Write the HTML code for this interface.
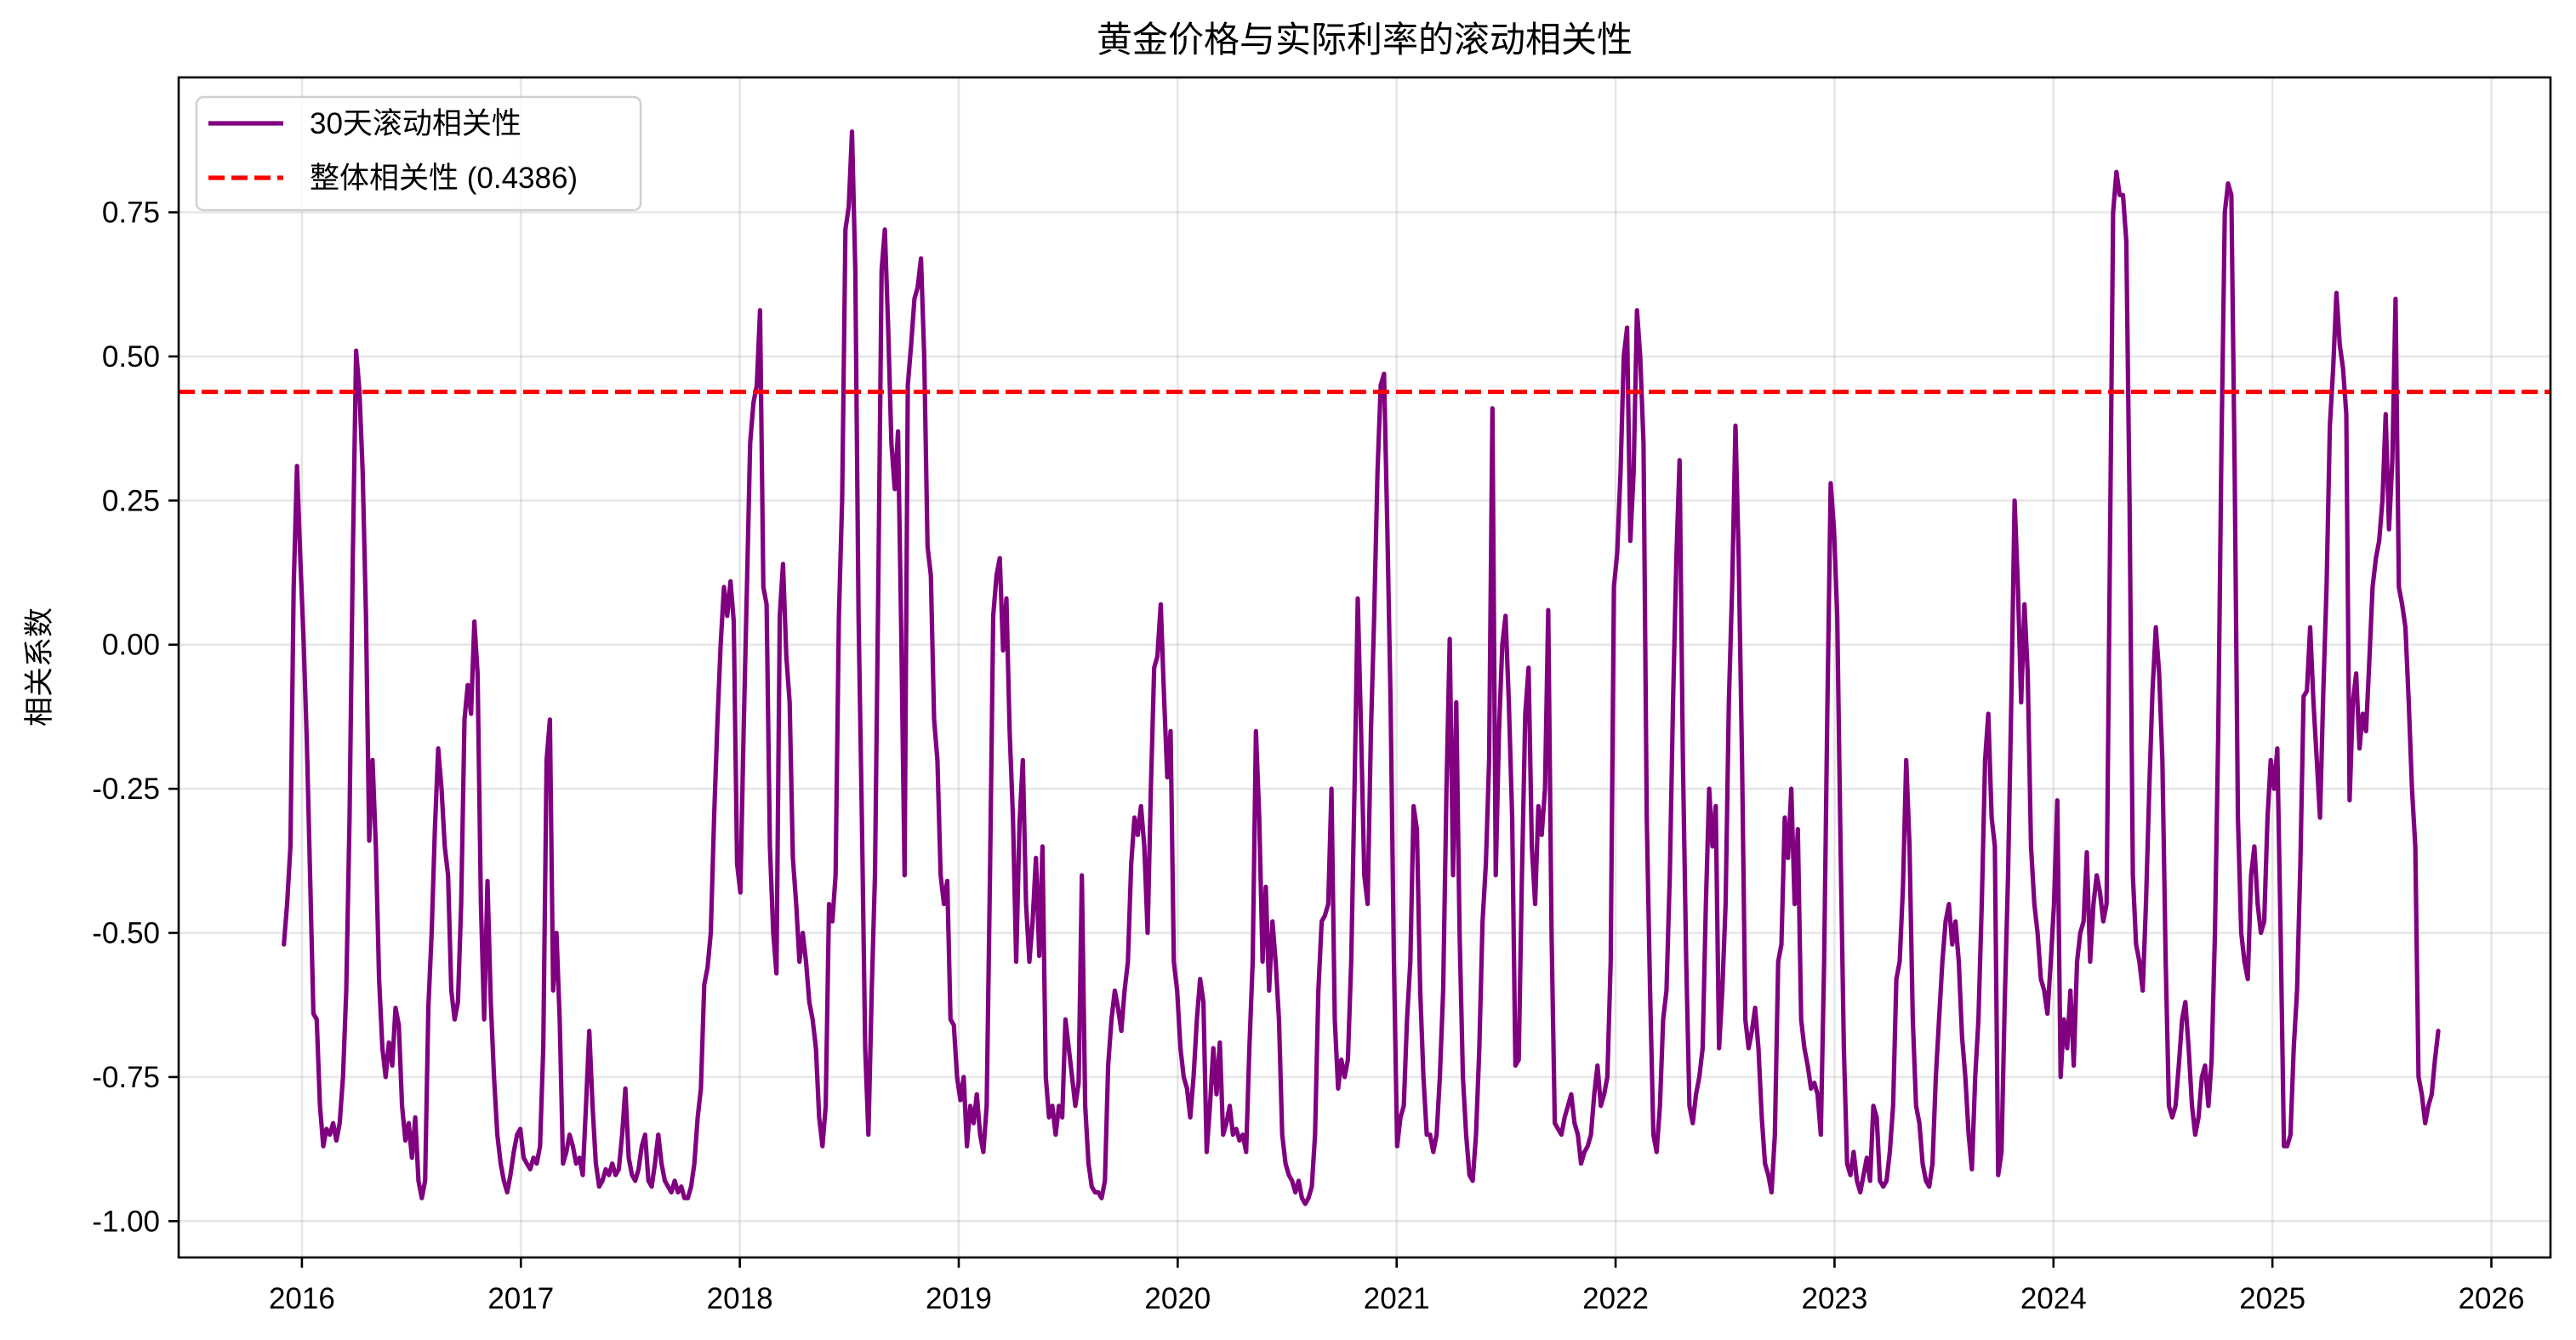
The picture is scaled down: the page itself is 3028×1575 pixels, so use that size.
<!DOCTYPE html>
<html><head><meta charset="utf-8"><style>
html,body{margin:0;padding:0;background:#fff;}
svg{display:block;font-family:"Liberation Sans","Noto Sans CJK SC",sans-serif;}
</style></head><body>
<svg id="chart" width="3028" height="1575" viewBox="0 0 3028 1575">
<rect x="0" y="0" width="3028" height="1575" fill="#fff"/>
<text x="1604" y="61" font-size="42" text-anchor="middle">黄金价格与实际利率的滚动相关性</text>
<g id="grid"></g>
<g id="series"></g>
<g id="axes"></g>
<text transform="translate(58,784) rotate(-90)" font-size="35" text-anchor="middle">相关系数</text>
<g>
<rect x="231" y="114" width="522" height="133" rx="8" fill="#fff" fill-opacity="0.8" stroke="#d0d0d0" stroke-width="2.5"/>
<line x1="245" y1="145" x2="333" y2="145" stroke="#800080" stroke-width="5.2"/>
<text x="364" y="157" font-size="35">30天滚动相关性</text>
<line x1="245" y1="209" x2="333" y2="209" stroke="#ff0000" stroke-width="5.2" stroke-dasharray="19 8"/>
<text x="364" y="221" font-size="35">整体相关性 (0.4386)</text>
</g>
</svg>
<script>
const xTicks = [2016,2017,2018,2019,2020,2021,2022,2023,2024,2025,2026];
const yTicks = [-1.00,-0.75,-0.50,-0.25,0.00,0.25,0.50,0.75];
const yTickLabels = ["-1.00","-0.75","-0.50","-0.25","0.00","0.25","0.50","0.75"];
const overallCorr = 0.4386;
const startYear = 2015.9175;
const stepYears = 0.015;
const rollingValues = [
-0.52,-0.45,-0.35,0.10,0.31,0.15,0.01,-0.17,-0.40,-0.64,-0.65,-0.80,
-0.87,-0.84,-0.85,-0.83,-0.86,-0.83,-0.75,-0.60,-0.30,0.15,0.51,0.44,0.30,0.05,-0.34,-0.20,
-0.35,-0.58,-0.70,-0.75,-0.69,-0.73,-0.63,-0.66,-0.80,-0.86,-0.83,-0.89,-0.82,-0.93,-0.96,-0.93,
-0.63,-0.50,-0.32,-0.18,-0.25,-0.35,-0.40,-0.60,-0.65,-0.62,-0.45,-0.13,-0.07,-0.12,0.04,-0.05,
-0.45,-0.65,-0.41,-0.62,-0.75,-0.85,-0.90,-0.93,-0.95,-0.92,-0.88,-0.85,-0.84,-0.89,-0.90,-0.91,
-0.89,-0.90,-0.87,-0.70,-0.20,-0.13,-0.60,-0.50,-0.65,-0.90,-0.88,-0.85,-0.87,-0.90,-0.89,-0.92,
-0.80,-0.67,-0.80,-0.90,-0.94,-0.93,-0.91,-0.92,-0.90,-0.92,-0.91,-0.85,-0.77,-0.89,-0.92,-0.93,
-0.91,-0.87,-0.85,-0.93,-0.94,-0.90,-0.85,-0.90,-0.93,-0.94,-0.95,-0.93,-0.95,-0.94,-0.96,-0.96,
-0.94,-0.90,-0.82,-0.77,-0.59,-0.56,-0.50,-0.30,-0.14,0.00,0.10,0.05,0.11,0.04,-0.38,-0.43,
-0.15,0.10,0.35,0.42,0.45,0.58,0.10,0.07,-0.35,-0.50,-0.57,0.05,0.14,-0.02,-0.10,-0.37,
-0.45,-0.55,-0.50,-0.55,-0.62,-0.65,-0.70,-0.82,-0.87,-0.80,-0.45,-0.48,-0.40,0.05,0.25,0.72,
0.76,0.89,0.65,0.05,-0.30,-0.70,-0.85,-0.60,-0.40,0.10,0.65,0.72,0.55,0.35,0.27,0.37,
0.02,-0.40,0.45,0.52,0.60,0.62,0.67,0.50,0.17,0.12,-0.13,-0.20,-0.40,-0.45,-0.41,-0.65,
-0.66,-0.75,-0.79,-0.75,-0.87,-0.80,-0.83,-0.78,-0.85,-0.88,-0.80,-0.40,0.05,0.12,0.15,-0.01,
0.08,-0.15,-0.30,-0.55,-0.31,-0.20,-0.45,-0.55,-0.48,-0.37,-0.54,-0.35,-0.75,-0.82,-0.80,-0.85,
-0.80,-0.82,-0.65,-0.70,-0.75,-0.80,-0.76,-0.40,-0.80,-0.90,-0.94,-0.95,-0.95,-0.96,-0.93,-0.73,
-0.65,-0.60,-0.63,-0.67,-0.60,-0.55,-0.38,-0.30,-0.33,-0.28,-0.35,-0.50,-0.25,-0.04,-0.02,0.07,
-0.09,-0.23,-0.15,-0.55,-0.60,-0.70,-0.75,-0.77,-0.82,-0.75,-0.65,-0.58,-0.62,-0.88,-0.80,-0.70,
-0.78,-0.69,-0.85,-0.83,-0.80,-0.85,-0.84,-0.86,-0.85,-0.88,-0.70,-0.55,-0.15,-0.30,-0.55,-0.42,
-0.60,-0.48,-0.55,-0.65,-0.85,-0.90,-0.92,-0.93,-0.95,-0.93,-0.96,-0.97,-0.96,-0.94,-0.85,-0.60,
-0.48,-0.47,-0.45,-0.25,-0.65,-0.77,-0.72,-0.75,-0.72,-0.55,-0.25,0.08,-0.15,-0.40,-0.45,-0.15,
0.05,0.30,0.45,0.47,0.20,-0.10,-0.55,-0.87,-0.82,-0.80,-0.65,-0.55,-0.28,-0.32,-0.60,-0.75,
-0.85,-0.85,-0.88,-0.85,-0.75,-0.60,-0.25,0.01,-0.40,-0.10,-0.50,-0.75,-0.85,-0.92,-0.93,-0.85,
-0.70,-0.48,-0.38,-0.20,0.41,-0.40,-0.15,0.00,0.05,-0.10,-0.30,-0.73,-0.72,-0.40,-0.12,-0.04,
-0.35,-0.45,-0.28,-0.33,-0.25,0.06,-0.50,-0.83,-0.84,-0.85,-0.82,-0.80,-0.78,-0.83,-0.85,-0.90,
-0.88,-0.87,-0.85,-0.78,-0.73,-0.80,-0.78,-0.75,-0.55,0.10,0.16,0.30,0.50,0.55,0.18,0.30,
0.58,0.50,0.35,-0.30,-0.60,-0.85,-0.88,-0.80,-0.65,-0.60,-0.40,-0.10,0.15,0.32,-0.20,-0.55,
-0.80,-0.83,-0.78,-0.75,-0.70,-0.45,-0.25,-0.35,-0.28,-0.70,-0.60,-0.45,-0.10,0.10,0.38,0.15,
-0.20,-0.65,-0.70,-0.67,-0.63,-0.70,-0.82,-0.90,-0.92,-0.95,-0.85,-0.55,-0.52,-0.30,-0.37,-0.25,
-0.45,-0.32,-0.65,-0.70,-0.73,-0.77,-0.76,-0.78,-0.85,-0.55,-0.10,0.28,0.20,0.05,-0.35,-0.70,
-0.90,-0.92,-0.88,-0.93,-0.95,-0.92,-0.89,-0.93,-0.80,-0.82,-0.93,-0.94,-0.93,-0.88,-0.80,-0.58,
-0.55,-0.42,-0.20,-0.35,-0.65,-0.80,-0.83,-0.90,-0.93,-0.94,-0.90,-0.75,-0.65,-0.55,-0.48,-0.45,
-0.52,-0.48,-0.55,-0.68,-0.75,-0.85,-0.91,-0.75,-0.65,-0.45,-0.20,-0.12,-0.30,-0.35,-0.92,-0.88,
-0.62,-0.40,-0.10,0.25,0.10,-0.10,0.07,-0.05,-0.35,-0.45,-0.50,-0.58,-0.60,-0.64,-0.55,-0.45,
-0.27,-0.75,-0.65,-0.70,-0.60,-0.73,-0.55,-0.50,-0.48,-0.36,-0.55,-0.45,-0.40,-0.43,-0.48,-0.45,
0.15,0.75,0.82,0.78,0.78,0.70,0.25,-0.40,-0.52,-0.55,-0.60,-0.45,-0.25,-0.08,0.03,-0.05,
-0.20,-0.55,-0.80,-0.82,-0.80,-0.73,-0.65,-0.62,-0.70,-0.80,-0.85,-0.82,-0.75,-0.73,-0.80,-0.72,
-0.50,-0.15,0.35,0.75,0.80,0.78,0.30,-0.30,-0.50,-0.55,-0.58,-0.40,-0.35,-0.45,-0.50,-0.48,
-0.30,-0.20,-0.25,-0.18,-0.50,-0.87,-0.87,-0.85,-0.70,-0.60,-0.38,-0.09,-0.08,0.03,-0.10,-0.20,
-0.30,-0.08,0.10,0.38,0.48,0.61,0.52,0.48,0.40,-0.27,-0.10,-0.05,-0.18,-0.12,-0.15,-0.03,
0.10,0.15,0.18,0.25,0.40,0.20,0.32,0.60,0.10,0.07,0.03,-0.10,-0.25,-0.35,-0.75,-0.78,
-0.83,-0.80,-0.78,-0.72,-0.67
];
const L=210,R=2998,T=91,B=1478;
const X0=2015.437,X1=2026.27;
const Y0=-1.063,Y1=0.984;
function xs(v){return L+(v-X0)/(X1-X0)*(R-L);}
function ys(v){return B-(v-Y0)/(Y1-Y0)*(B-T);}
const NS="http://www.w3.org/2000/svg";
function mk(tag,attrs,parent){const e=document.createElementNS(NS,tag);for(const k in attrs)e.setAttribute(k,attrs[k]);parent.appendChild(e);return e;}
const grid=document.getElementById('grid'),axes=document.getElementById('axes'),series=document.getElementById('series');
xTicks.forEach(t=>{
  const g=mk('line',{x1:xs(t),x2:xs(t),y1:T,y2:B,stroke:'#b0b0b0','stroke-opacity':0.3,'stroke-width':2.6},grid);
  
  
  const tk=mk('line',{x1:xs(t),x2:xs(t),y1:B,y2:B+12,stroke:'#000','stroke-width':2.6},axes);
  
  
  const lb=mk('text',{x:xs(t),y:B+60,'font-size':35,'text-anchor':'middle'},axes);
  lb.textContent=String(t);
  
  
});
yTicks.forEach((t,i)=>{
  const g=mk('line',{x1:L,x2:R,y1:ys(t),y2:ys(t),stroke:'#b0b0b0','stroke-opacity':0.3,'stroke-width':2.6},grid);
  
  
  const tk=mk('line',{x1:L-12,x2:L,y1:ys(t),y2:ys(t),stroke:'#000','stroke-width':2.6},axes);
  
  
  const lb=mk('text',{x:L-22,y:ys(t)+12,'font-size':35,'text-anchor':'end'},axes);
  lb.textContent=yTickLabels[i];
  
  
});
const pts=rollingValues.map((v,i)=>xs(startYear+i*stepYears).toFixed(1)+','+ys(v).toFixed(1)).join(' ');
const pl=mk('polyline',{points:pts,fill:'none',stroke:'#800080','stroke-width':5.2,'stroke-linejoin':'round','stroke-linecap':'round'},series);


const hl=mk('line',{x1:L,x2:R,y1:ys(overallCorr),y2:ys(overallCorr),stroke:'#ff0000','stroke-width':5.2,'stroke-dasharray':'19 8'},series);


const fr=mk('rect',{x:L,y:T,width:R-L,height:B-T,fill:'none',stroke:'#000','stroke-width':2.6},axes);


</script>
</body></html>
